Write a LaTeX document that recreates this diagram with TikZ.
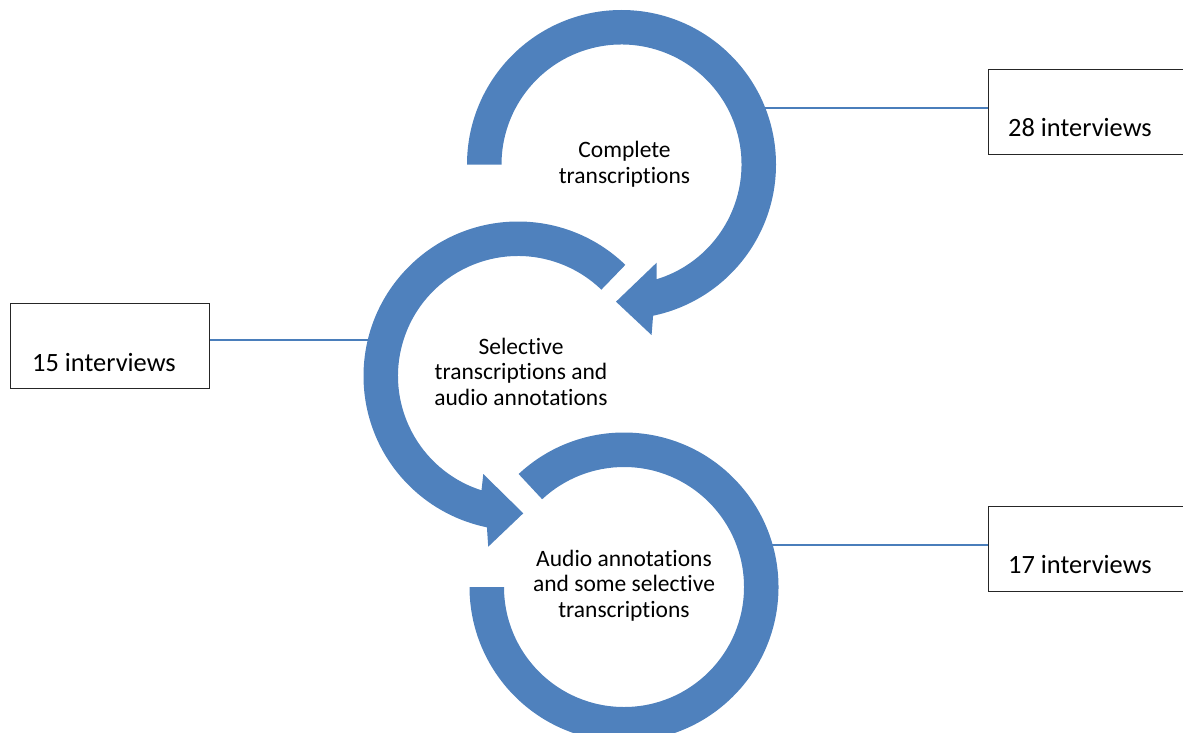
\documentclass[tikz,border=0pt]{standalone}
\usepackage{fontspec}
\setmainfont{Carlito}[Ligatures={NoCommon,NoRare,NoContextual}]
\usetikzlibrary{calc}
\definecolor{ringblue}{RGB}{79,129,189}
\definecolor{lineblue}{RGB}{74,126,187}
\begin{document}
\begin{tikzpicture}[x=1pt,y=1pt,
  ring/.style={fill=ringblue, draw=none},
  link/.style={draw=lineblue, line width=1.8pt},
  countbox/.style={draw=black!85, line width=1.1pt, minimum width=199pt, minimum height=85pt, anchor=north west, inner sep=0pt},
  ringtext/.style={align=center, font={\fontsize{23.5}{25.5}\selectfont}, inner sep=0pt},
  boxtext/.style={anchor=base west, font={\fontsize{26.4}{30}\selectfont}, inner sep=0pt}]
\useasboundingbox (0,0) rectangle (1183,-733);
\coordinate (C1) at (621.5,-164.5);
\coordinate (C2) at (518,-376);
\coordinate (C3) at (624,-587);

% boxes
\node[countbox] (b1) at (988,-69) {};
\node[countbox] (b2) at (10,-303) {};
\node[countbox] (b3) at (988,-506) {};
\node[boxtext] (t1) at (1008,-137) {28 interviews};
\node[boxtext] (t2) at (32,-371) {15 interviews};
\node[boxtext] (t3) at (1008,-573) {17 interviews};

% connector ends on the rings
\coordinate (e1) at ($(C1)+(24.36:137)$);
\coordinate (e2) at ($(C2)+(164.77:137)$);
\coordinate (e3) at ($(C3)+(17.85:137)$);
\draw[link] (e1) -- (e1 -| b1.west);
\draw[link] (b2.east |- e2) -- (e2);
\draw[link] (e3) -- (e3 -| b3.west);

% ring 1
\fill[ring] ($(C1)+(180:154.5)$) arc[start angle=180, end angle=-78.2, radius=154.5pt]
  -- ($(C1)+(-80:173.2)$) -- ($(C1)+(-92.3:137.3)$) -- ($(C1)+(-70.3:104.3)$) -- ($(C1)+(-73:120)$)
  arc[start angle=-73, end angle=180, radius=120pt] -- cycle;
% ring 2
\fill[ring] ($(C2)+(46:154.5)$) arc[start angle=46, end angle=258.4, radius=154.5pt]
  -- ($(C2)+(260.1:173.3)$) -- ($(C2)+(272.2:137.4)$) -- ($(C2)+(250.5:104)$) -- ($(C2)+(252.3:120)$)
  arc[start angle=252.3, end angle=46, radius=120pt] -- cycle;
% ring 3
\fill[ring] ($(C3)+(133:154.5)$) arc[start angle=133, end angle=-180, radius=154.5pt]
  -- ($(C3)+(180:120)$) arc[start angle=-180, end angle=133, radius=120pt] -- cycle;

% ring texts
\node[ringtext] (r1) at (624.5,-164) {Complete\\transcriptions};
\node[ringtext] (r2) at (521,-371.5) {Selective\\transcriptions and\\audio annotations};
\node[ringtext] (r3) at (624,-585.6) {Audio annotations\\and some selective\\transcriptions};
\end{tikzpicture}
\end{document}
